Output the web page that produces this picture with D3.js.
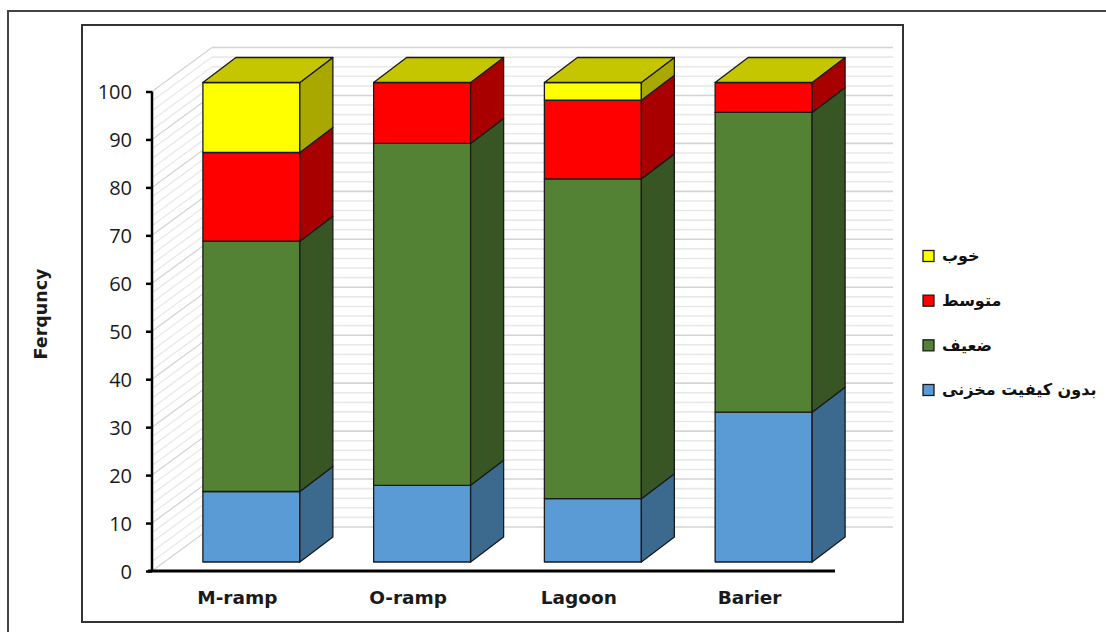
<!DOCTYPE html>
<html>
<head>
<meta charset="utf-8">
<script src="https://cdn.jsdelivr.net/npm/d3@7"></script>
<style>
  html, body { margin: 0; padding: 0; background: #fff; }
  svg { display: block; }
</style>
</head>
<body>
<div id="chart"></div>
<script>
// Facies categories and the four reservoir-quality classes (percent of samples)
const categories = ["M-ramp", "O-ramp", "Lagoon", "Barier"];
const seriesKeys = ["noQuality", "weak", "medium", "good"];
const seriesNames = ["بدون کیفیت مخزنی", "ضعیف", "متوسط", "خوب"];
const noQuality = [14.7, 16.0, 13.2, 31.25];
const weak      = [52.2, 71.3, 66.7, 62.5];
const medium    = [18.5, 12.7, 16.4, 6.25];
const good      = [14.6, 0.0, 3.7, 0.0];
const yTicks = [0, 10, 20, 30, 40, 50, 60, 70, 80, 90, 100];
const yTitle = "Ferquncy";

const W = 1106, H = 632;

const faceColors = {
  noQuality: { front: "#5b9bd5", side: "#3c6a8e", top: "#4d86b9" },
  weak:      { front: "#548235", side: "#375623", top: "#446b2b" },
  medium:    { front: "#ff0000", side: "#a80000", top: "#cc0000" },
  good:      { front: "#ffff00", side: "#a8a800", top: "#c6c600" }
};

const rows = categories.map((c, i) => ({
  cat: c,
  noQuality: noQuality[i],
  weak: weak[i],
  medium: medium[i],
  good: good[i]
}));

const svg = d3.select("#chart").append("svg")
  .attr("width", W).attr("height", H);

// frames
svg.append("rect").attr("x", 8).attr("y", 11).attr("width", 1120).attr("height", 660)
  .attr("fill", "none").attr("stroke", "#444").attr("stroke-width", 2);
svg.append("rect").attr("x", 82).attr("y", 25).attr("width", 821).attr("height", 597)
  .attr("fill", "#fff").attr("stroke", "#333").attr("stroke-width", 2);

// scales: axis plane
const y = d3.scaleLinear().domain([0, 100]).range([571, 91.5]);
const x = d3.scaleBand().domain(categories).range([152, 835])
  .paddingInner(0.432).paddingOuter(0.216);

// oblique depth offsets
const wallDX = 60, wallDY = -44;   // axis plane -> back wall
const gapDX = 14, gapDY = -9;      // axis plane -> front face of columns
const barDX = 33, barDY = -25;     // column depth

// wall gridlines (every 2 units, darker every 10)
const gridVals = d3.range(0, 101, 2);
const walls = svg.append("g");
gridVals.forEach(v => {
  const major = v % 10 === 0;
  const col = major ? "#d4d4d4" : "#e9e9e9";
  const yy = y(v);
  walls.append("line")
    .attr("x1", 152).attr("y1", yy)
    .attr("x2", 152 + wallDX).attr("y2", yy + wallDY)
    .attr("stroke", col).attr("stroke-width", 1.3);
  walls.append("line")
    .attr("x1", 152 + wallDX).attr("y1", yy + wallDY)
    .attr("x2", 835 + wallDX - 2).attr("y2", yy + wallDY)
    .attr("stroke", col).attr("stroke-width", 1.6);
});

// axes
const yAxis = d3.axisLeft(y).tickValues(yTicks).tickSize(6).tickPadding(14);
const gy = svg.append("g").attr("transform", "translate(152,0)").call(yAxis);
gy.select(".domain").attr("stroke", "#000").attr("stroke-width", 2.5)
  .attr("d", `M0,${y(100)}V${y(0)}`);
gy.selectAll(".tick line").attr("stroke", "#000").attr("stroke-width", 2.5);
gy.selectAll(".tick text")
  .attr("font-family", "'Open Sans', sans-serif").attr("font-size", 20)
  .attr("fill", "#1a1a1a").attr("dy", "0.36em");

const xAxis = d3.axisBottom(x).tickSize(0).tickPadding(20);
const gx = svg.append("g").attr("transform", `translate(0,${y(0)})`).call(xAxis);
gx.select(".domain").attr("stroke", "#000").attr("stroke-width", 3)
  .attr("d", `M148,0H835`);
gx.selectAll(".tick text")
  .attr("font-family", "'DejaVu Sans', sans-serif").attr("font-weight", "bold")
  .attr("font-size", 18.5).attr("fill", "#1a1a1a");

// y title
svg.append("text")
  .attr("transform", "translate(47,314) rotate(-90)")
  .attr("text-anchor", "middle")
  .attr("font-family", "'DejaVu Sans', sans-serif").attr("font-weight", "bold")
  .attr("font-size", 17.5).attr("fill", "#1a1a1a")
  .text(yTitle);

// stacked 3D columns
const stack = d3.stack().keys(seriesKeys)(rows);
const yF = v => y(v) + gapDY;
const bw = x.bandwidth();
const barsG = svg.append("g")
  .attr("stroke", "#1a1a1a").attr("stroke-width", 1.3).attr("stroke-linejoin", "round");

categories.forEach((c, ci) => {
  const x0 = x(c) + gapDX;
  const x1 = x0 + bw;
  const g = barsG.append("g");
  stack.forEach(layer => {
    const [v0, v1] = layer[ci];
    const col = faceColors[layer.key];
    if (v1 - v0 <= 0) return;
    g.append("rect")
      .attr("x", x0).attr("y", yF(v1))
      .attr("width", bw).attr("height", yF(v0) - yF(v1))
      .attr("fill", col.front);
    g.append("polygon")
      .attr("points", [
        [x1, yF(v1)], [x1 + barDX, yF(v1) + barDY],
        [x1 + barDX, yF(v0) + barDY], [x1, yF(v0)]
      ].map(p => p.join(",")).join(" "))
      .attr("fill", col.side);
  });
  // top face carries the colour of the last series
  const topLayer = stack[stack.length - 1];
  const vt = topLayer[ci][1];
  g.append("polygon")
    .attr("points", [
      [x0, yF(vt)], [x0 + barDX, yF(vt) + barDY],
      [x1 + barDX, yF(vt) + barDY], [x1, yF(vt)]
    ].map(p => p.join(",")).join(" "))
    .attr("fill", faceColors[topLayer.key].top);
});

// legend (top to bottom: last series first)
const legendOrder = seriesKeys.map((k, i) => ({ key: k, name: seriesNames[i] })).reverse();
const legY = d3.scalePoint().domain(legendOrder.map(d => d.key)).range([256.5, 390.5]);
const leg = svg.append("g");
legendOrder.forEach(d => {
  const cy = legY(d.key);
  leg.append("rect")
    .attr("x", 923).attr("y", cy - 6).attr("width", 11).attr("height", 11)
    .attr("fill", faceColors[d.key].front).attr("stroke", "#1a1a1a").attr("stroke-width", 1.3);
  leg.append("text")
    .attr("x", 942).attr("y", cy).attr("dy", "0.3em")
    .attr("font-family", "'DejaVu Sans', sans-serif").attr("font-weight", "bold")
    .attr("font-size", 16).attr("fill", "#111")
    .text(d.name);
});
</script>
</body>
</html>
